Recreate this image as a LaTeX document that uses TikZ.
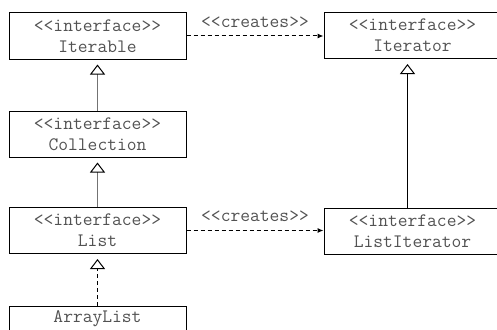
\documentclass[tikz,border=0pt]{standalone}
\usepackage{fontspec}
\usetikzlibrary{arrows.meta}

\begin{document}
\begin{tikzpicture}[x=1pt, y=-1pt, font=\ttfamily\fontsize{19}{21}\selectfont,
    cls/.style={draw, line width=1pt, text=black!68, align=center, inner sep=0pt,
                minimum width=177pt, minimum height=46pt},
    gen/.style={draw=black!55, line width=1pt, shorten >=5pt,
                -{Triangle[open, color=black, width=15pt, length=10pt]}},
    real/.style={gen, draw=black, dash pattern=on 4pt off 3pt},
    uses/.style={draw, line width=1pt, dash pattern=on 4pt off 3pt,
                 -{Latex[length=6pt, width=5pt]}}]
    \clip (0,0) rectangle (497,329);

    % left column: interfaces and the class
    \node[cls] (iterable)   at (97.5,36)   {<<interface>>\\Iterable};
    \node[cls] (collection) at (97.5,134)  {<<interface>>\\Collection};
    \node[cls] (list)       at (97.5,230.5){<<interface>>\\List};
    \node[cls, minimum height=25pt] (arraylist) at (97.5,318.5) {ArrayList};

    % right column: the iterators
    \node[cls] (iterator) at (412.5,35.5) {<<interface>>\\Iterator};
    \node[cls] (listiter) at (412.5,231)  {<<interface>>\\ListIterator};

    \draw[gen]  (collection) -- (iterable);
    \draw[gen]  (list) -- (collection);
    \draw[real] (arraylist) -- (list);
    \draw[gen, draw=black] ([xshift=-5pt]listiter.north) -- ([xshift=-5pt]iterator.south);

    \draw[uses] (iterable.east) -- (iterable.east -| iterator.west)
      node[midway, above=5pt, text=black!68] {<<creates>>};
    \draw[uses] (list.east) -- (list.east -| listiter.west)
      node[midway, above=5pt, text=black!68] {<<creates>>};
  \end{tikzpicture}
\end{document}
